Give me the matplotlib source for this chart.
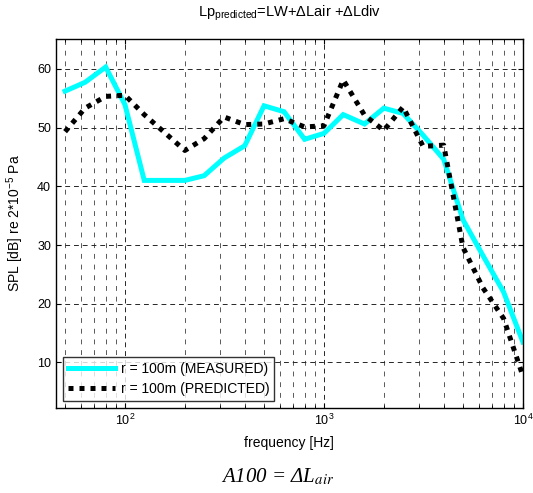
import numpy as np
import matplotlib
matplotlib.use('Agg')
import matplotlib.pyplot as plt

plt.rcParams['font.family'] = ['Liberation Sans', 'DejaVu Sans']
plt.rcParams['mathtext.fontset'] = 'custom'
plt.rcParams['mathtext.rm'] = 'Liberation Sans'
plt.rcParams['mathtext.it'] = 'Liberation Sans:italic'

# 1/3-octave band centre frequencies
freq = [50, 63, 80, 100, 125, 160, 200, 250, 315, 400, 500, 630, 800,
        1000, 1250, 1600, 2000, 2500, 3150, 4000, 5000, 6300, 8000, 10000]

measured = [56.2, 57.7, 60.3, 53.9, 41.0, 41.0, 41.0, 41.8, 44.8, 46.9, 53.7, 52.7, 48.0,
            49.0, 52.2, 50.6, 53.3, 52.4, 48.7, 44.6, 34.3, 28.2, 22.0, 13.5]

predicted = [49.3, 53.3, 55.3, 55.5, 52.2, 49.0, 46.1, 48.1, 51.8, 50.5, 50.6, 51.5, 50.1,
             50.3, 58.1, 52.1, 49.5, 53.5, 46.8, 47.0, 29.6, 22.7, 17.5, 7.7]

fig = plt.figure(figsize=(5.33, 4.93), dpi=100)
ax = fig.add_axes([0.105, 0.173, 0.876, 0.747])

ax.semilogx(freq, measured, color='#00ffff', lw=3.6, solid_joinstyle='miter',
            label='r = 100m (MEASURED)')
ax.semilogx(freq, predicted, color='black', lw=3.6, dashes=(1, 1.2),
            dash_capstyle='butt', label='r = 100m (PREDICTED)')

ax.set_xlim(45, 10000)
ax.set_ylim(2.3, 65)
ax.set_yticks([10, 20, 30, 40, 50, 60])

ax.grid(True, which='major', axis='both', color='0.15', ls=(0, (5, 4)), lw=0.7)
ax.grid(True, which='minor', axis='x', color='0.35', ls=(0, (5, 6)), lw=0.7)
ax.tick_params(direction='in', which='both', top=True, right=True, labelsize=9)
for s in ax.spines.values():
    s.set_linewidth(1.0)

ax.set_xlabel('frequency [Hz]', fontsize=10, labelpad=6)
ax.set_ylabel(r'SPL [dB] re 2*10$^{-5}$ Pa', fontsize=10, labelpad=8)

fig.text(0.543, 0.972, r'Lp$_{\mathrm{predicted}}$=LW+$\Delta$Lair +$\Delta$Ldiv',
         ha='center', va='center', fontsize=10.5)

leg = ax.legend(loc='lower left', fontsize=10, handlelength=3.4, frameon=True,
                fancybox=False, edgecolor='black', borderaxespad=0.5,
                borderpad=0.35, labelspacing=0.45, handletextpad=0.4)
leg.get_frame().set_linewidth(1.0)

fig.text(0.52, 0.032, 'A100 = ΔL$_{air}$', ha='center', va='center',
         fontsize=15, family='Liberation Serif', style='italic',
         math_fontfamily='stix')

fig.savefig('out.png', dpi=100)
